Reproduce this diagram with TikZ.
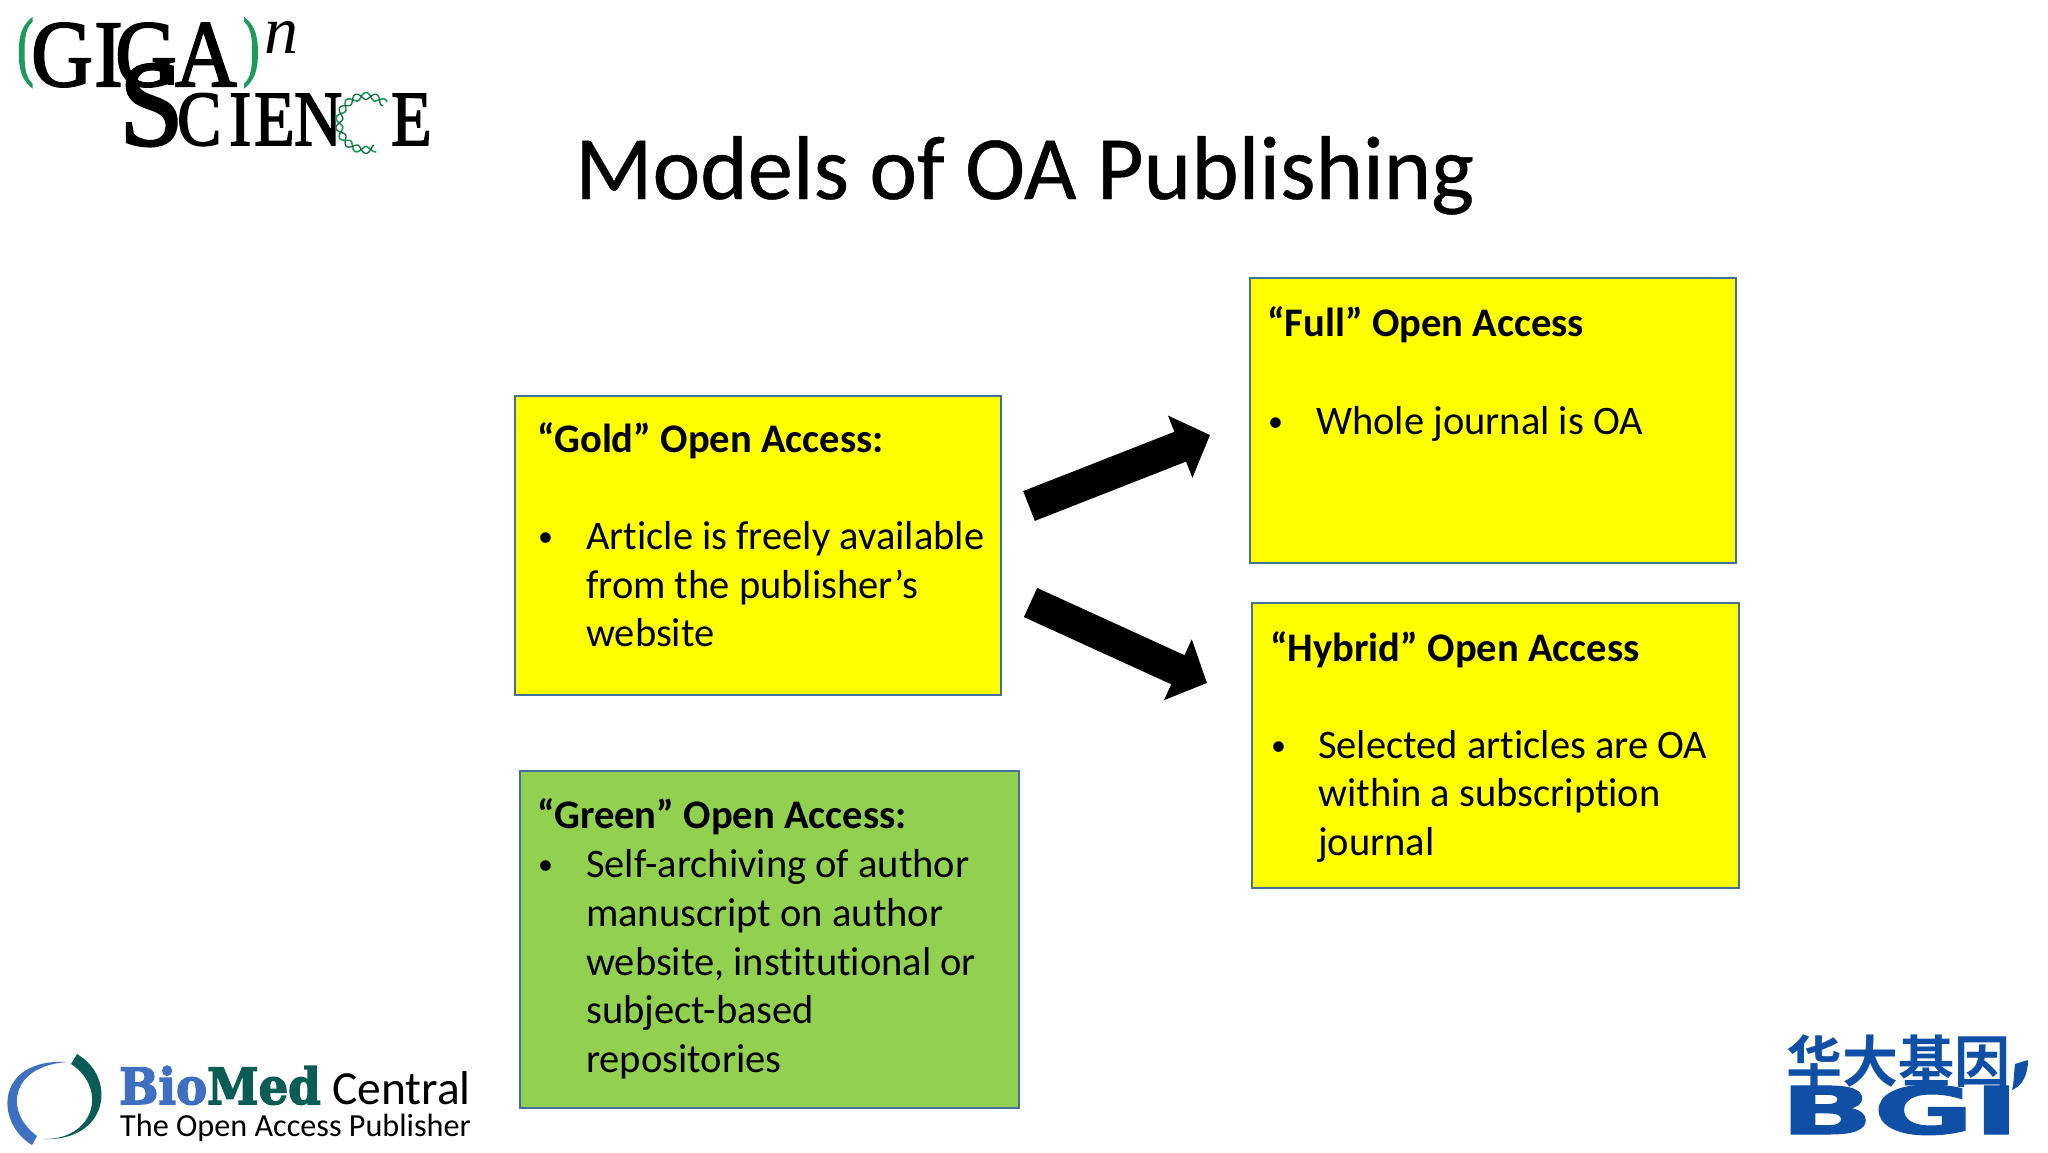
\documentclass[tikz,border=0pt]{standalone}
\usepackage{fontspec}
\setmainfont{Carlito}[Ligatures=NoCommon]
\newfontfamily\logoserif{Liberation Serif}[FakeBold=2.2]
\newfontfamily\logoserifit{Liberation Serif Italic}
\newfontfamily\slabfont{DejaVu Serif Bold}[FakeBold=3]
\newfontfamily\heavyfont{DejaVu Sans Bold}[FakeBold=1.5]
\newfontfamily\cjkfont{Noto Sans CJK SC Bold}
\newfontfamily\titlefont{Carlito}[Ligatures=NoCommon,FakeBold=0.5]
\usetikzlibrary{arrows.meta}
\definecolor{boxedge}{HTML}{41719C}
\definecolor{goldfill}{HTML}{FFFF00}
\definecolor{greenfill}{HTML}{92D050}
\definecolor{logogreen}{HTML}{1E9A5B}
\definecolor{bmcblue}{HTML}{3F6FC0}
\definecolor{bmcteal}{HTML}{0B5C55}
\definecolor{bgiblue}{HTML}{0F4FA5}
\tikzset{
  oabox/.style={draw=boxedge,line width=1.6pt,inner sep=0pt,anchor=north west},
  body/.style={inner sep=0pt,font=\fontsize{40.5}{48.5}\selectfont,align=left},
  bodyhead/.style={inner sep=0pt,anchor=base west,font=\fontsize{40.6}{48.5}\selectfont\bfseries},
  bodyline/.style={body,anchor=base west},
  bulletmark/.style={inner sep=0pt,anchor=base west,font=\fontsize{30}{30}\selectfont},
  blockarrow/.style={line width=32pt,-{Triangle[length=32pt,width=65pt]}},
  gl/.style={inner sep=0pt,anchor=base west,xscale=.9,font=\logoserif\fontsize{95}{95}\selectfont},
  gp/.style={inner sep=0pt,anchor=base west,xscale=.65,text=logogreen,font=\logoserif\fontsize{76}{76}\selectfont},
  sl/.style={inner sep=0pt,anchor=base west,xscale=.85,font=\logoserif\fontsize{78}{78}\selectfont}
}
\begin{document}
\begin{tikzpicture}[x=1pt,y=-1pt]
\useasboundingbox[fill=white] (0,0) rectangle (2048,1152);
% title
\node[inner sep=0pt,anchor=base west,font=\titlefont\fontsize{90.5}{90}\selectfont] (title) at (575,199) {Models of OA Publishing};
% boxes
\node[oabox,fill=goldfill,minimum width=486pt,minimum height=299pt] (gold) at (514,395) {};
\node[oabox,fill=greenfill,minimum width=499pt,minimum height=337pt] (green) at (519,770) {};
\node[oabox,fill=goldfill,minimum width=486pt,minimum height=285pt] (full) at (1249,277) {};
\node[oabox,fill=goldfill,minimum width=487pt,minimum height=285pt] (hybrid) at (1251,602) {};
% gold text
\node[bodyhead] (goldh) at (537,452) {“Gold” Open Access:};
\node[bulletmark] (goldb) at (538,546) {•};
\node[bodyline] (gold1) at (586,549) {Article is freely available};
\node[bodyline] (gold2) at (586,598) {from the publisher’s};
\node[bodyline] (gold3) at (586,646) {website};
% green text
\node[bodyhead] (greenh) at (537,828) {“Green” Open Access:};
\node[bulletmark] (greenb) at (538,874) {•};
\node[bodyline] (green1) at (586,877) {Self-archiving of author};
\node[bodyline] (green2) at (586,926) {manuscript on author};
\node[bodyline] (green3) at (586,975) {website, institutional or};
\node[bodyline] (green4) at (586,1023) {subject-based};
\node[bodyline] (green5) at (586,1072) {repositories};
% full text
\node[bodyhead] (fullh) at (1267,336) {“Full” Open Access};
\node[bulletmark] (fullb) at (1268,431) {•};
\node[bodyline] (full1) at (1316,434) {Whole journal is OA};
% hybrid text
\node[bodyhead] (hybh) at (1270,661) {“Hybrid” Open Access};
\node[bulletmark] (hybb) at (1271,755) {•};
\node[bodyline] (hyb1) at (1318,758) {Selected articles are OA};
\node[bodyline] (hyb2) at (1318,806) {within a subscription};
\node[bodyline] (hyb3) at (1318,855) {journal};
% arrows
\coordinate (a1s) at (1029,506);
\coordinate (a1e) at (1210,435);
\coordinate (a2s) at (1030.5,602.5);
\coordinate (a2e) at (1207,683);
\draw[blockarrow] (a1s) -- (a1e);
\draw[blockarrow] (a2s) -- (a2e);
% Giga logo
\node[gp] (lp) at (17,71) {(};
\node[gl] (lg1) at (31,86) {G};
\node[gl] (li) at (94,86) {I};
\node[gl] (lg2) at (115,86) {G};
\node[gl] (la) at (175,86) {A};
\node[gp] (rp) at (243,71) {)};
\node[inner sep=0pt,anchor=base west,font=\logoserifit\fontsize{68}{68}\selectfont] (ln) at (264,53) {n};
\node[inner sep=0pt,anchor=base west,xscale=.95,font=\logoserif\fontsize{122}{122}\selectfont] (ls) at (119,145) {S};
\node[sl] (sc) at (177,145) {C};
\node[sl] (si) at (229,145) {I};
\node[sl] (se) at (254,145) {E};
\node[sl] (sn) at (294,145) {N};
\node[sl] (se2) at (391,145) {E};
\draw[logogreen,line width=1.6pt] plot[smooth,domain=45:290,samples=90] ({366+(27+3.5*sin(9*\x))*cos(\x)},{123-(27+3.5*sin(9*\x))*sin(\x)});
\draw[logogreen!70!black,line width=1.3pt] plot[smooth,domain=45:290,samples=90] ({366+(27-3.5*sin(9*\x))*cos(\x)},{123-(27-3.5*sin(9*\x))*sin(\x)});
% BioMed Central logo
\fill[bmcblue] (32,1145) .. controls (-6,1122) and (-4,1058) .. (67,1062) .. controls (10,1066) and (4,1112) .. (37,1136) -- cycle;
\fill[bmcteal] (77,1054) .. controls (118,1078) and (108,1142) .. (43,1139) .. controls (95,1140) and (108,1088) .. (71,1064) -- cycle;
\node[inner sep=0pt,anchor=base west,xscale=.93,font=\slabfont\fontsize{50}{50}\selectfont] (bmc) at (119,1104) {\textcolor{bmcblue}{Bio}\textcolor{bmcteal}{Med}};
\node[inner sep=0pt,anchor=base west,font=\fontsize{47.5}{48}\selectfont] (central) at (332,1104) {Central};
\node[inner sep=0pt,anchor=base west,font=\fontsize{32.2}{33}\selectfont] (oap) at (120,1136) {The Open Access Publisher};
% BGI logo
\node[inner sep=0pt,anchor=base west,text=bgiblue,font=\cjkfont\fontsize{56}{56}\selectfont] (bgicn) at (1786,1082) {华大基因};
\node[inner sep=0pt,anchor=base west,text=bgiblue,xscale=1.85,font=\heavyfont\fontsize{66}{66}\selectfont] (bgien) at (1780,1134) {BGI};
\fill[bgiblue] (2015,1064) -- (2028,1060) .. controls (2028,1075) and (2022,1086) .. (2012,1090) .. controls (2014,1082) and (2014,1072) .. (2015,1064) -- cycle;
\end{tikzpicture}
\end{document}
